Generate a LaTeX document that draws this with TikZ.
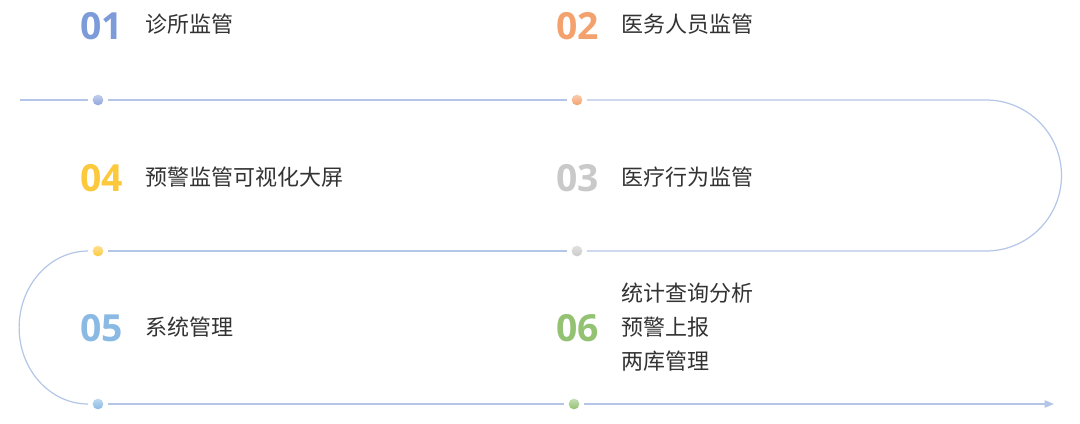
\documentclass[tikz,border=0pt]{standalone}
\usepackage{fontspec}
\newfontfamily\cjk{Noto Sans CJK SC}
\newfontfamily\numf{Open Sans}
\usetikzlibrary{arrows.meta}
\definecolor{linec}{HTML}{B4C6E7}
\definecolor{txt}{HTML}{333333}
\definecolor{cA}{HTML}{7C9BD8}
\definecolor{dA}{HTML}{8FA5DC}
\definecolor{cB}{HTML}{F3A26D}
\definecolor{cC}{HTML}{C9C9C9}
\definecolor{cD}{HTML}{FCC93C}
\definecolor{cE}{HTML}{8AB9E4}
\definecolor{cF}{HTML}{92C272}
\tikzset{
  dot/.style={circle, minimum size=8pt, inner sep=0pt, outer sep=3.4pt, draw=none, top color=#1!55!white, bottom color=#1},
  num/.style={anchor=west, inner sep=0pt, text=#1, font=\numf\bfseries\fontsize{28}{30}\selectfont},
  lbl/.style={anchor=west, inner sep=0pt, text=txt, font=\cjk\fontsize{16.5}{25.5}\selectfont, align=left},
  conn/.style={draw=linec, line width=0.9pt},
}
\begin{document}
\begin{tikzpicture}[x=0.75pt, y=-0.75pt]
\useasboundingbox[fill=white] (0,0) rectangle (1080,424);
% dots
\node[dot=dA] (d1) at (98,100) {};
\node[dot=cB] (d2) at (577,100) {};
\node[dot=cC] (d3) at (577,251) {};
\node[dot=cD] (d4) at (98,251) {};
\node[dot=cE] (d5) at (98,404) {};
\node[dot=cF] (d6) at (574,404) {};
\coordinate (s) at (20,100);
\coordinate (r1) at (986,100);
\coordinate (e) at (1054,404);
% connectors
\draw[conn] (s) -- (d1);
\draw[conn] (d1) -- (d2);
\draw[conn] (d2) -- (r1) arc[start angle=-90, end angle=90, x radius=75.5, y radius=75.5] -- (d3);
\draw[conn] (d3) -- (d4);
\draw[conn] (d4.west) arc[start angle=-90, end angle=-270, x radius=69, y radius=76.5];
\draw[conn] (d5) -- (d6);
\draw[conn, -{Triangle[length=7pt, width=5.5pt]}] (d6) -- (e);
% numbers
\node[num=cA] (n1) at (80,26) {01};
\node[num=cB] (n2) at (556,26) {02};
\node[num=cC] (n3) at (556,178) {03};
\node[num=cD] (n4) at (80,178) {04};
\node[num=cE] (n5) at (80,328) {05};
\node[num=cF] (n6) at (556,328) {06};
% labels
\node[lbl] (t1) at (145,24) {诊所监管};
\node[lbl] (t2) at (621,24) {医务人员监管};
\node[lbl] (t3) at (621,177) {医疗行为监管};
\node[lbl] (t4) at (145,177) {预警监管可视化大屏};
\node[lbl] (t5) at (145,327.5) {系统管理};
\node[lbl] (t6) at (621,327) {统计查询分析\\预警上报\\两库管理};
\end{tikzpicture}
\end{document}
